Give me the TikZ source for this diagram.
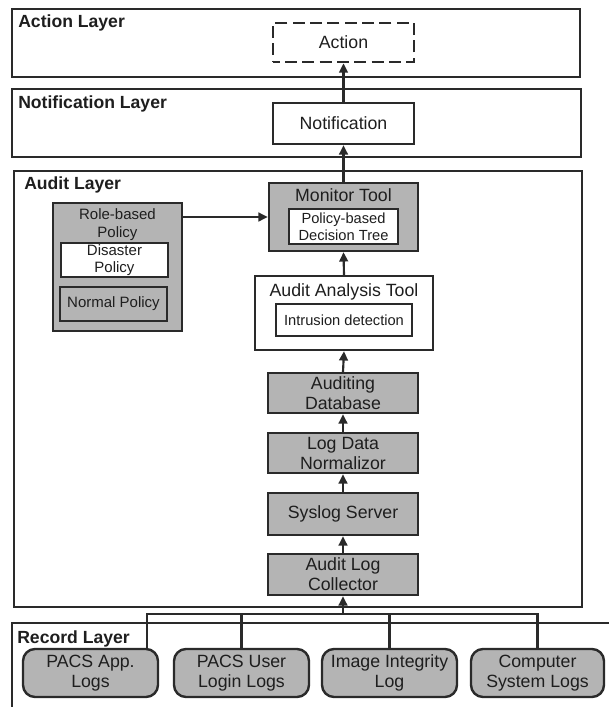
\documentclass[tikz,border=0pt]{standalone}
\usepackage{fontspec}
\setmainfont{Liberation Sans}
\usetikzlibrary{arrows.meta}
\definecolor{ink}{HTML}{1E1E1E}
\definecolor{edge}{HTML}{2A2A2A}
\definecolor{shade}{HTML}{B4B4B4}
\tikzset{
  sz/.style 2 args={minimum width=#1*0.75pt, minimum height=#2*0.75pt},
  base/.style={inner sep=0pt, align=center, text=ink, font=\fontsize{13.3pt}{15pt}\selectfont},
  layerbox/.style={draw=edge, line width=1.5pt, inner sep=0pt},
  layertitle/.style={base, anchor=base west, font=\bfseries\fontsize{13.2pt}{15pt}\selectfont},
  graybox/.style={base, draw=edge, line width=1.8pt, fill=shade},
  whitebox/.style={base, draw=edge, line width=1.8pt, fill=white},
  innerwhite/.style={base, draw=edge, line width=1.3pt, fill=white, font=\fontsize{11pt}{12.75pt}\selectfont},
  innergray/.style={innerwhite, fill=shade},
  dashbox/.style={base, draw=edge, line width=2pt, dash pattern=on 9pt off 4pt, dash phase=4pt},
  logbox/.style={graybox, rounded corners=9pt, font=\fontsize{13.3pt}{14.5pt}\selectfont},
  wire/.style={draw=edge, line width=1.6pt},
  arr/.style={wire, -{Triangle[length=7pt, width=6.5pt]}}
}
\begin{document}
\begin{tikzpicture}[x=0.75pt, y=-0.75pt]
\useasboundingbox (0,0) rectangle (609,707);

% layer frames
\node[layerbox, sz={568}{68}] (actL) at (296,43) {};
\node[layerbox, sz={569}{68}] (notL) at (296.5,123) {};
\node[layerbox, sz={568}{436}] (audL) at (298,389) {};
\draw[edge, line width=1.5pt] (615,623) -- (12,623) -- (12,712);

\node[layertitle] (actT) at (18,27) {Action Layer};
\node[layertitle] (notT) at (18,108) {Notification Layer};
\node[layertitle] (audT) at (24,189) {Audit Layer};
\node[layertitle] (recT) at (17,643) {Record Layer};

% action and notification
\node[dashbox, sz={141}{39}] (act) at (343.5,42.5) {Action};
\node[whitebox, sz={141}{41}] (notif) at (343.5,123.5) {Notification};

% monitor tool
\node[graybox, sz={149}{68}] (mon) at (343.5,217) {};
\node[base, anchor=base] (monT) at (343.5,201) {Monitor Tool};
\node[innerwhite, sz={109}{35}] (tree) at (343.5,226.5) {Policy-based\\Decision Tree};

% role-based policy
\node[graybox, sz={129}{128}] (role) at (117.5,267) {};
\node[base, anchor=north, font=\fontsize{11.25pt}{13.5pt}\selectfont] (roleT) at (117.5,208) {Role-based\\Policy};
\node[innerwhite, sz={107}{34}, font=\fontsize{11.25pt}{12.75pt}\selectfont] (dis) at (114.5,260) {Disaster\\Policy};
\node[innergray, sz={107}{34}, font=\fontsize{11.25pt}{12.75pt}\selectfont] (norm) at (113.5,304) {Normal Policy};

% audit analysis tool
\node[whitebox, sz={178}{74}] (ana) at (344,313) {};
\node[base, anchor=base] (anaT) at (344,296) {Audit Analysis Tool};
\node[innerwhite, sz={136}{32}] (ids) at (344,320) {Intrusion detection};

% collection chain
\node[graybox, sz={150}{40}] (db) at (343,393) {Auditing\\Database};
\node[graybox, sz={150}{40}] (norml) at (343,453) {Log Data\\Normalizor};
\node[graybox, sz={150}{42}] (sys) at (343,514) {Syslog Server};
\node[graybox, sz={150}{41}] (col) at (343,574.5) {Audit Log\\Collector};

% record sources
\node[logbox, sz={135}{48}] (r1) at (90.5,673) {PACS App.\\Logs};
\node[logbox, sz={135}{48}] (r2) at (241.5,673) {PACS User\\Login Logs};
\node[logbox, sz={135}{48}] (r3) at (389.5,673) {Image Integrity\\Log};
\node[logbox, sz={133}{48}] (r4) at (537.5,673) {Computer\\System Logs};

% connectors
\draw[arr] (notif.north) -- (act.south);
\draw[arr] (mon.north) -- (notif.south);
\draw[arr] (mon.west -| role.east) -- (mon.west);
\draw[arr] (ana.north) -- (mon.south);
\draw[arr] (db.north) -- (ana.south);
\draw[arr] (norml.north) -- (db.south);
\draw[arr] (sys.north) -- (norml.south);
\draw[arr] (col.north) -- (sys.south);

\coordinate (busA) at (147,614);
\coordinate (busB) at (r4.north |- busA);
\draw[wire] (busA |- r1.north) -- (busA) -- (busB) -- (r4.north);
\draw[wire] (r2.north) -- (r2.north |- busA);
\draw[wire] (r3.north) -- (r3.north |- busA);
\draw[arr] (col.south |- busA) -- (col.south);
\end{tikzpicture}
\end{document}
